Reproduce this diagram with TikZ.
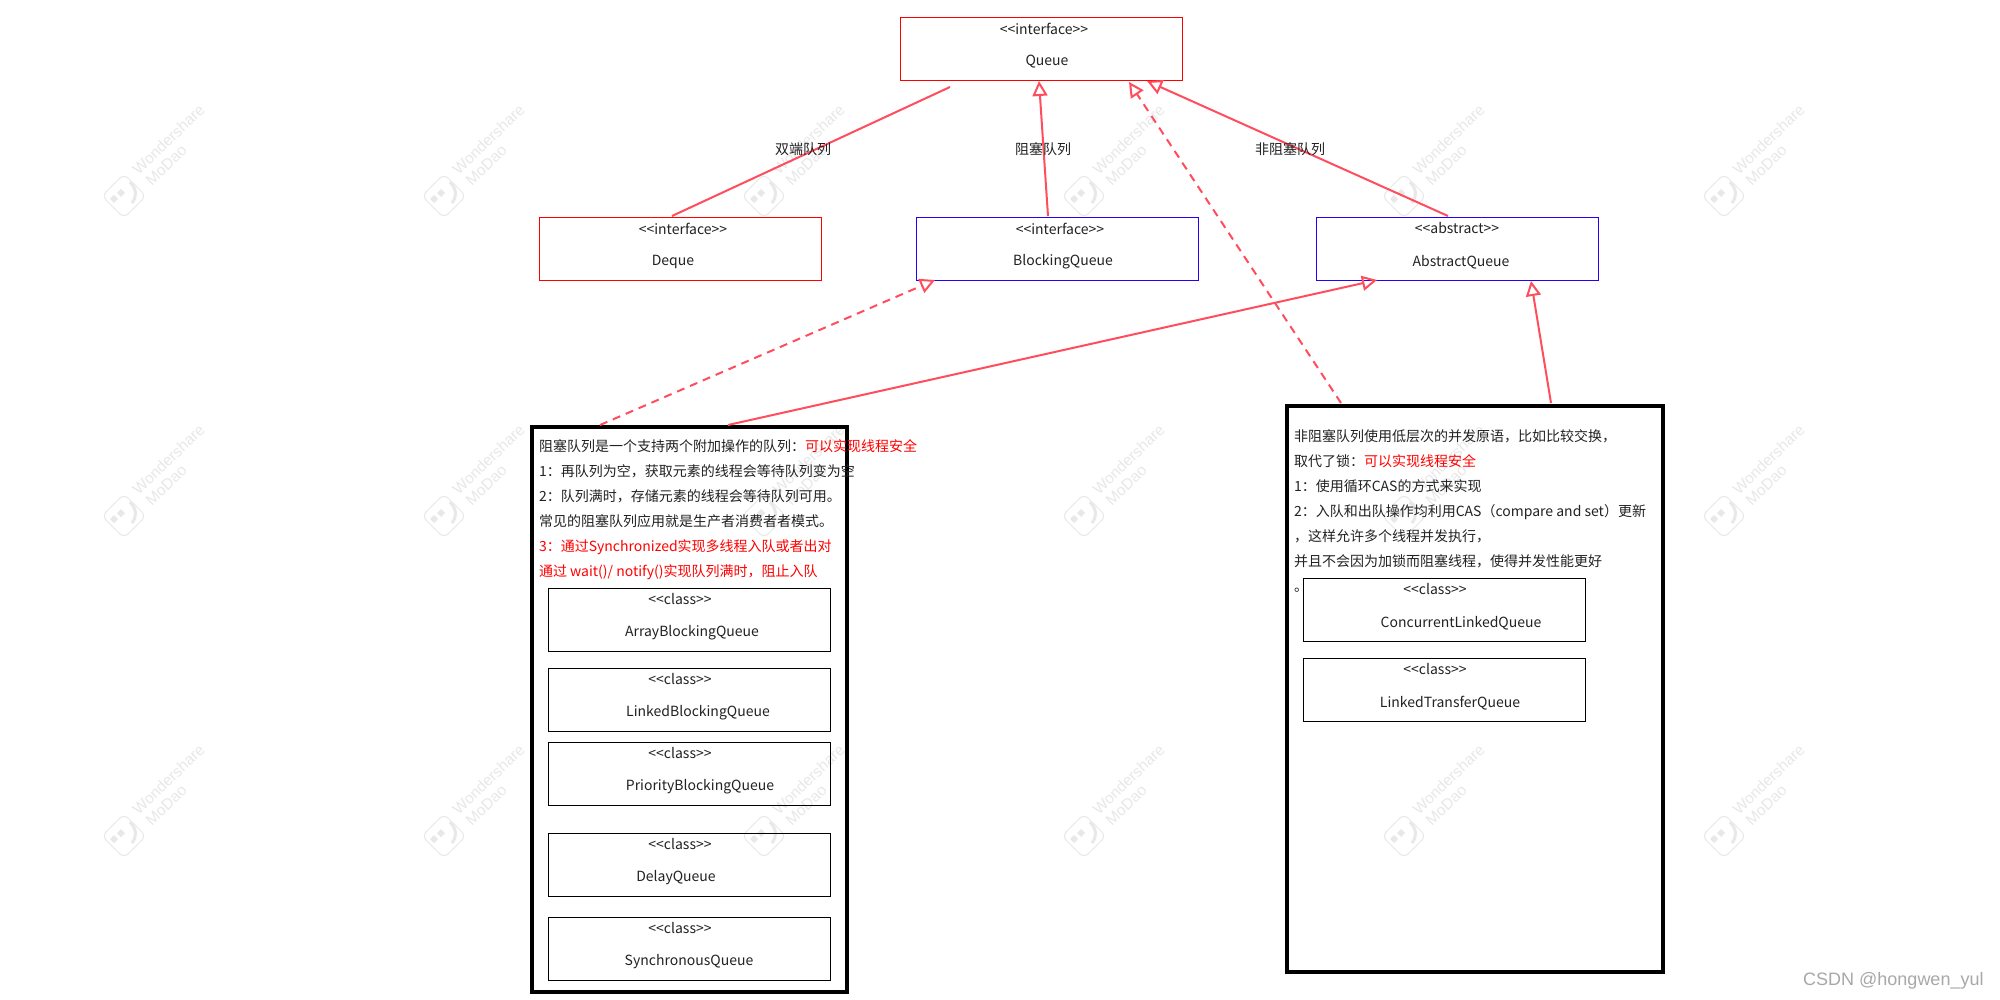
\documentclass[tikz,border=0pt]{standalone}
\usepackage{fontspec}
\setmainfont{Noto Sans CJK SC}
\newfontfamily\wmfont{Liberation Sans}
\usetikzlibrary{arrows.meta,calc}
\definecolor{linkred}{HTML}{FF4D5E}
\definecolor{boxred}{HTML}{FF0000}
\definecolor{boxblue}{HTML}{2200FF}
\definecolor{inktxt}{HTML}{222222}
\definecolor{wmgray}{HTML}{E8E8E8}
\definecolor{csdngray}{HTML}{A8A8A8}
\tikzset{
  umlbox/.style={draw=#1,line width=0.9pt,minimum width=282pt,minimum height=63pt,inner sep=0pt,outer sep=0pt},
  bigbox/.style={draw=black,line width=3.5pt,inner sep=0pt,outer sep=0pt},
  umltxt/.style={inner sep=0pt,outer sep=0pt,text=inktxt,font=\fontsize{14}{16}\selectfont},
  blocktxt/.style={inner sep=0pt,outer sep=0pt,text=inktxt,anchor=north west,align=left,font=\fontsize{14}{25}\selectfont},
  plainlink/.style={draw=linkred,line width=2pt},
  genlink/.style={draw=linkred,line width=2pt,-{Triangle[open,length=15pt,width=15pt]}},
  dashlink/.style={genlink,dash pattern=on 8pt off 6pt},
  wmtxt/.style={text=wmgray,inner sep=0pt,rotate=44,anchor=west,font=\wmfont\fontsize{15.5}{15.5}\selectfont}
}
% name, left, top, colour, stereotype, stereotype x, title, title x
\newcommand{\umlnode}[8]{%
  \node[umlbox=#4] (#1) at (#2+141,#3+31.5) {};
  \node[umltxt] (#1s) at (#6,#3+11.5) {<{}<#5>{}>};
  \node[umltxt] (#1t) at (#8,#3+45) {#7};
}
\begin{document}
\begin{tikzpicture}[x=1pt,y=-1pt]
\useasboundingbox (0,0) rectangle (2000,1000);
\fill[white] (0,0) rectangle (2000,1000);
% watermarks
\foreach \wx in {124,444,764,1084,1404,1724}{
  \foreach \wy in {196,516,836}{
    \begin{scope}[shift={(\wx,\wy)}]
      \draw[wmgray,line width=1pt,rounded corners=6pt] (0,-22) -- (22,0) -- (0,22) -- (-22,0) -- cycle;
      \fill[wmgray] (-14,3) -- (-10,-1) -- (-6,3) -- (-10,7) -- cycle;
      \fill[wmgray] (-7,-3) -- (-3,-7) -- (1,-3) -- (-3,1) -- cycle;
      \draw[wmgray,line width=3pt] (6,-14) .. controls (13,-6) and (13,0) .. (8,7);
      \node[wmtxt] at (11,-24) {Wondershare};
      \node[wmtxt] at (24,-13) {MoDao};
    \end{scope}
  }
}
% top row
\umlnode{queue}{900}{17}{boxred}{interface}{1044}{Queue}{1047}
\umlnode{deque}{539}{217}{boxred}{interface}{683}{Deque}{673}
\umlnode{blockq}{916}{217}{boxblue}{interface}{1060}{BlockingQueue}{1063}
\umlnode{absq}{1316}{217}{boxblue}{abstract}{1457}{AbstractQueue}{1461}
% containers
\node[bigbox,minimum width=315pt,minimum height=565pt] (leftc) at (689.5,709.5) {};
\node[bigbox,minimum width=376pt,minimum height=566pt] (rightc) at (1475,689) {};
% left classes
\umlnode{arrayq}{548}{588}{black}{class}{680}{ArrayBlockingQueue}{692}
\umlnode{linkedq}{548}{668}{black}{class}{680}{LinkedBlockingQueue}{698}
\umlnode{prioq}{548}{742}{black}{class}{680}{PriorityBlockingQueue}{700}
\umlnode{delayq}{548}{833}{black}{class}{680}{DelayQueue}{676}
\umlnode{syncq}{548}{917}{black}{class}{680}{SynchronousQueue}{689}
% right classes
\umlnode{concq}{1303}{578}{black}{class}{1435}{ConcurrentLinkedQueue}{1461}
\umlnode{transq}{1303}{658}{black}{class}{1435}{LinkedTransferQueue}{1450}
% block texts
\node[blocktxt] (lefttxt) at (539,439.5) {阻塞队列是一个支持两个附加操作的队列：\textcolor{boxred}{可以实现线程安全}\\
1：再队列为空，获取元素的线程会等待队列变为空\\
2：队列满时，存储元素的线程会等待队列可用。\\
常见的阻塞队列应用就是生产者消费者者模式。\\
\textcolor{boxred}{3：通过Synchronized实现多线程入队或者出对}\\
\textcolor{boxred}{通过 wait()/ notify()实现队列满时，阻止入队}};
\node[blocktxt] (righttxt) at (1294,429.5) {非阻塞队列使用低层次的并发原语，比如比较交换，\\
取代了锁：\textcolor{boxred}{可以实现线程安全}\\
1：使用循环CAS的方式来实现\\
2：入队和出队操作均利用CAS（compare and set）更新\\
，这样允许多个线程并发执行，\\
并且不会因为加锁而阻塞线程，使得并发性能更好\\
。};
% connectors
\draw[plainlink] ($(deque.north west)+(133,-1)$) -- ($(queue.south west)+(50,7)$);
\draw[genlink] ($(blockq.north west)+(132,-1)$) -- ($(queue.south west)+(139,1)$);
\draw[genlink] ($(absq.north west)+(132,-1)$) -- ($(queue.south west)+(247,1)$);
\draw[dashlink] ($(rightc.north west)+(54,-3)$) -- ($(queue.south west)+(229,2)$);
\draw[dashlink] ($(leftc.north west)+(68,-2)$) -- ($(blockq.south west)+(19,0)$);
\draw[genlink] ($(leftc.north west)+(196,-2)$) -- ($(absq.south west)+(61,0)$);
\draw[genlink] ($(rightc.north west)+(264,-3)$) -- ($(absq.south west)+(215,1)$);
% connector labels
\node[umltxt] (lab1) at (803,149) {双端队列};
\node[umltxt] (lab2) at (1043,149) {阻塞队列};
\node[umltxt] (lab3) at (1290,149) {非阻塞队列};
% credit
\node[text=csdngray,inner sep=0pt,anchor=west,font=\wmfont\fontsize{18}{18}\selectfont] (credit) at (1803,981) {CSDN @hongwen\_yul};
\end{tikzpicture}
\end{document}
